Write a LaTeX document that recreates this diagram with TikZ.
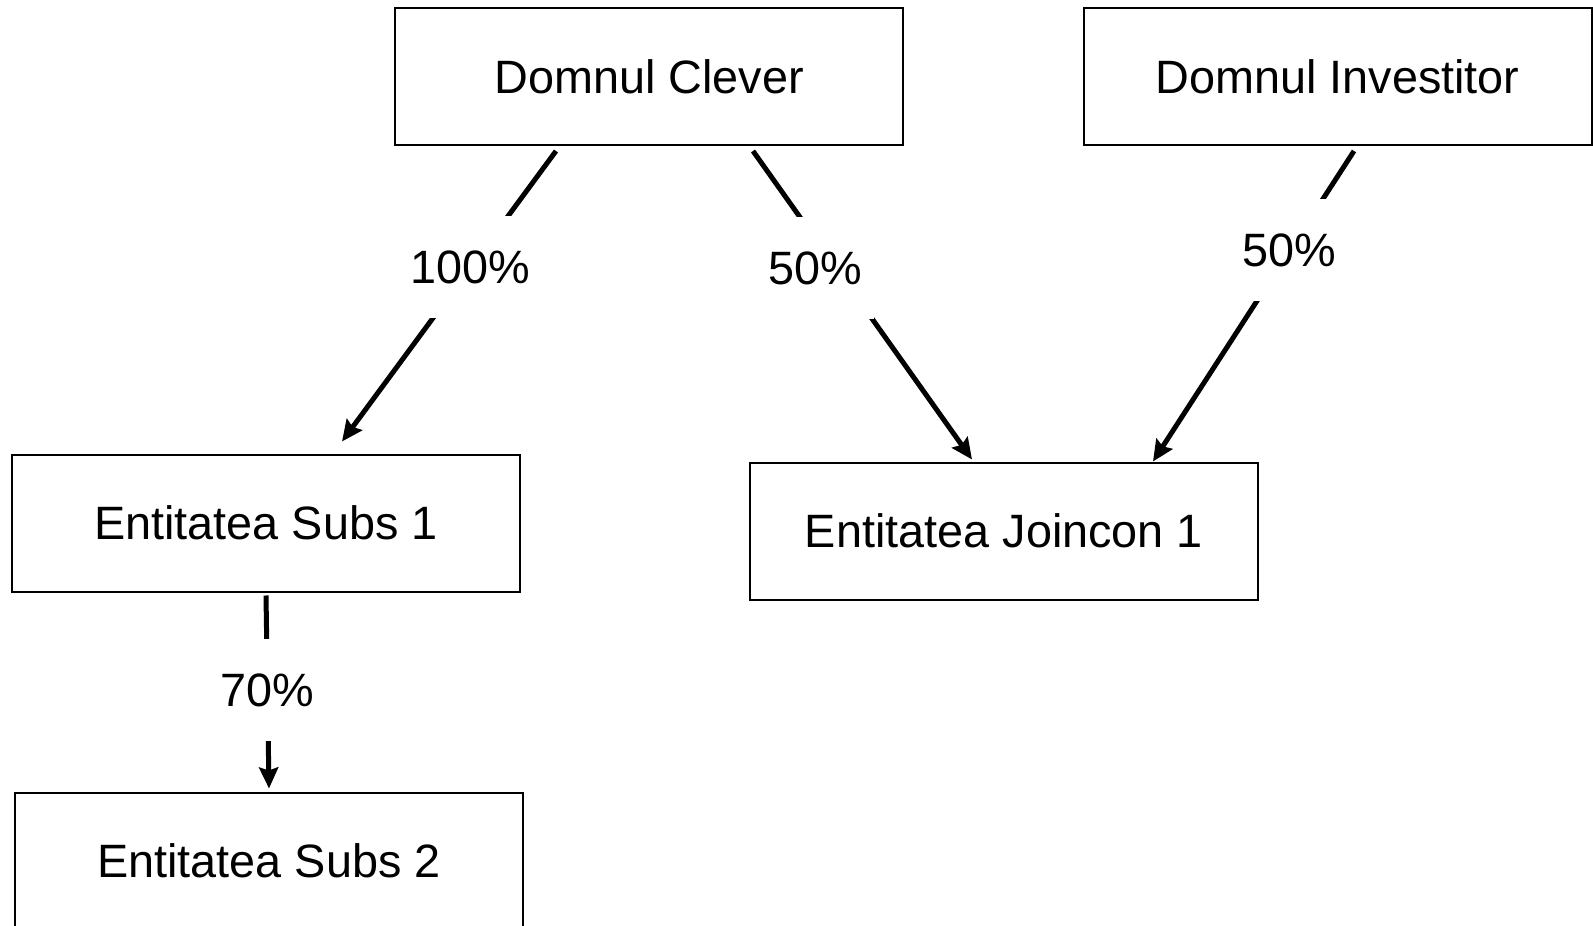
\documentclass[tikz,border=0pt]{standalone}
\usepackage{fontspec}
\setmainfont{Liberation Sans}
\usetikzlibrary{arrows.meta}

\begin{document}
\begin{tikzpicture}[x=1pt,y=-1pt,
        box/.style={draw, line width=2pt, inner sep=0pt, minimum width=508pt, minimum height=137pt},
        pct/.style={fill=white, inner xsep=12pt, inner ysep=0pt, minimum height=102pt},
        font=\fontsize{46.8}{56}\selectfont]
        \useasboundingbox (0,0) rectangle (1593,926);
        \node[box](clever)   at (649,76.5)   {Domnul Clever};
        \node[box](investor) at (1337.5,76.5){Domnul Investitor};
        \node[box](subs1)    at (266,523)    {Entitatea Subs 1};
        \node[box](joincon)  at (1004,531)   {Entitatea Joincon 1};
        \node[box](subs2)    at (269,861)    {Entitatea Subs 2};
        \path[line width=5pt, -{Stealth[length=21pt,width=19pt,inset=3pt]}]
            ([xshift=-93pt,yshift=-5pt]clever.south)
                edge node[pct, pos=0.40] {100\%} ([xshift=76pt,yshift=12pt]subs1.north)
            ([xshift=104pt,yshift=-5pt]clever.south)
                edge node[pct, pos=0.38, xshift=-21pt] {50\%} ([xshift=-32pt,yshift=2pt]joincon.north)
            ([xshift=16.5pt,yshift=-5pt]investor.south)
                edge node[pct, pos=0.32] {50\%} ([xshift=149pt]joincon.north)
            ([yshift=-3pt]subs1.south)
                edge node[pct, pos=0.49] {70\%} ([yshift=3pt]subs2.north)
            ;
    \end{tikzpicture}
\end{document}
